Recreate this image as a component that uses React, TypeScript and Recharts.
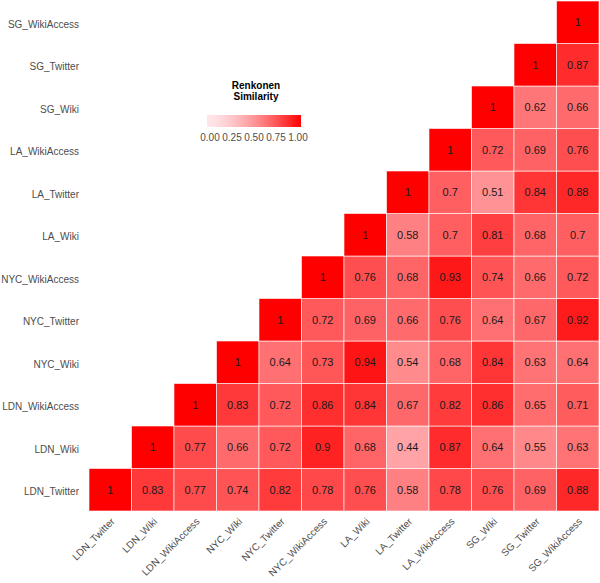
import React from "react";
import { ScatterChart, Scatter, XAxis, YAxis } from "recharts";

const categories = [
  "LDN_Twitter",
  "LDN_Wiki",
  "LDN_WikiAccess",
  "NYC_Wiki",
  "NYC_Twitter",
  "NYC_WikiAccess",
  "LA_Wiki",
  "LA_Twitter",
  "LA_WikiAccess",
  "SG_Wiki",
  "SG_Twitter",
  "SG_WikiAccess",
];

// each row starts on the diagonal and runs to the right
const ldnTwitterRow = [1, 0.83, 0.77, 0.74, 0.82, 0.78, 0.76, 0.58, 0.78, 0.76, 0.69, 0.88];
const ldnWikiRow = [1, 0.77, 0.66, 0.72, 0.9, 0.68, 0.44, 0.87, 0.64, 0.55, 0.63];
const ldnWikiAccessRow = [1, 0.83, 0.72, 0.86, 0.84, 0.67, 0.82, 0.86, 0.65, 0.71];
const nycWikiRow = [1, 0.64, 0.73, 0.94, 0.54, 0.68, 0.84, 0.63, 0.64];
const nycTwitterRow = [1, 0.72, 0.69, 0.66, 0.76, 0.64, 0.67, 0.92];
const nycWikiAccessRow = [1, 0.76, 0.68, 0.93, 0.74, 0.66, 0.72];
const laWikiRow = [1, 0.58, 0.7, 0.81, 0.68, 0.7];
const laTwitterRow = [1, 0.7, 0.51, 0.84, 0.88];
const laWikiAccessRow = [1, 0.72, 0.69, 0.76];
const sgWikiRow = [1, 0.62, 0.66];
const sgTwitterRow = [1, 0.87];
const sgWikiAccessRow = [1];

const legendTicks = [0, 0.25, 0.5, 0.75, 1];

const rows = [
  ldnTwitterRow,
  ldnWikiRow,
  ldnWikiAccessRow,
  nycWikiRow,
  nycTwitterRow,
  nycWikiAccessRow,
  laWikiRow,
  laTwitterRow,
  laWikiAccessRow,
  sgWikiRow,
  sgTwitterRow,
  sgWikiAccessRow,
];

const cells = rows.flatMap((vals, r) =>
  vals.map((v, k) => ({ x: r + k, y: r, value: v }))
);

const W = 600;
const H = 583;
const margin = { top: 1, right: 1, left: 0, bottom: 0 };
const yAxisW = 89;
const xAxisH = 72;
const cellW = (W - margin.left - margin.right - yAxisW) / categories.length;
const cellH = (H - margin.top - margin.bottom - xAxisH) / categories.length;

function fillFor(v: number) {
  const t = Math.pow(v, 1.5);
  const g = Math.round(230 * (1 - t));
  const b = Math.round(234 * (1 - t));
  return `rgb(255,${g},${b})`;
}

const font = "'Liberation Sans', Arial, sans-serif";

const TileShape = (props: any) => {
  const { cx, cy, payload } = props;
  return (
    <g>
      <rect
        x={cx - cellW / 2}
        y={cy - cellH / 2}
        width={cellW}
        height={cellH}
        fill={fillFor(payload.value)}
        stroke="#ffffff"
        strokeOpacity={0.6}
        strokeWidth={1}
      />
      <text
        x={cx}
        y={cy}
        textAnchor="middle"
        dominantBaseline="central"
        fontSize={11}
        fill="#1a1a1a"
        fontFamily={font}
      >
        {String(payload.value)}
      </text>
    </g>
  );
};

const XTick = (props: any) => {
  const { x, y, payload } = props;
  return (
    <text
      x={x}
      y={y}
      dy="0.72em"
      textAnchor="end"
      transform={`rotate(-45, ${x}, ${y})`}
      fontSize={10}
      fill="#4d4d4d"
      fontFamily={font}
    >
      {categories[payload.value]}
    </text>
  );
};

const YTick = (props: any) => {
  const { x, y, payload } = props;
  return (
    <text
      x={x}
      y={y + 2}
      textAnchor="end"
      dominantBaseline="central"
      fontSize={10}
      fill="#4d4d4d"
      fontFamily={font}
    >
      {categories[payload.value]}
    </text>
  );
};

const gradientStops = Array.from({ length: 11 }, (_, i) => `${fillFor(i / 10)} ${i * 10}%`).join(", ");

export default function App() {
  return (
    <div style={{ position: "absolute", left: 0, top: 0, width: W, height: H, background: "#fff", fontFamily: font }}>
      <ScatterChart width={W} height={H} margin={margin}>
        <XAxis
          type="number"
          dataKey="x"
          domain={[-0.5, 11.5]}
          ticks={categories.map((_, i) => i)}
          interval={0}
          axisLine={false}
          tickLine={false}
          tickSize={0}
          tickMargin={6}
          height={xAxisH}
          tick={<XTick />}
        />
        <YAxis
          type="number"
          dataKey="y"
          domain={[-0.5, 11.5]}
          ticks={categories.map((_, i) => i)}
          interval={0}
          axisLine={false}
          tickLine={false}
          tickSize={0}
          tickMargin={10}
          width={yAxisW}
          tick={<YTick />}
        />
        <Scatter data={cells} shape={<TileShape />} isAnimationActive={false} />
      </ScatterChart>
      <div style={{ position: "absolute", left: 226, top: 80, width: 60, textAlign: "center", fontSize: 10, fontWeight: "bold", lineHeight: "11px", color: "#000" }}>
        Renkonen
        <br />
        Similarity
      </div>
      <div
        style={{
          position: "absolute",
          left: 207,
          top: 115,
          width: 94,
          height: 12,
          background: `linear-gradient(to right, ${gradientStops})`,
        }}
      />
      {legendTicks.map((t) => (
        <div
          key={t}
          style={{
            position: "absolute",
            left: 210 + t * 88 - 15,
            top: 132,
            width: 30,
            textAlign: "center",
            fontSize: 10,
            color: "#4d4d4d",
          }}
        >
          {t.toFixed(2)}
        </div>
      ))}
    </div>
  );
}
